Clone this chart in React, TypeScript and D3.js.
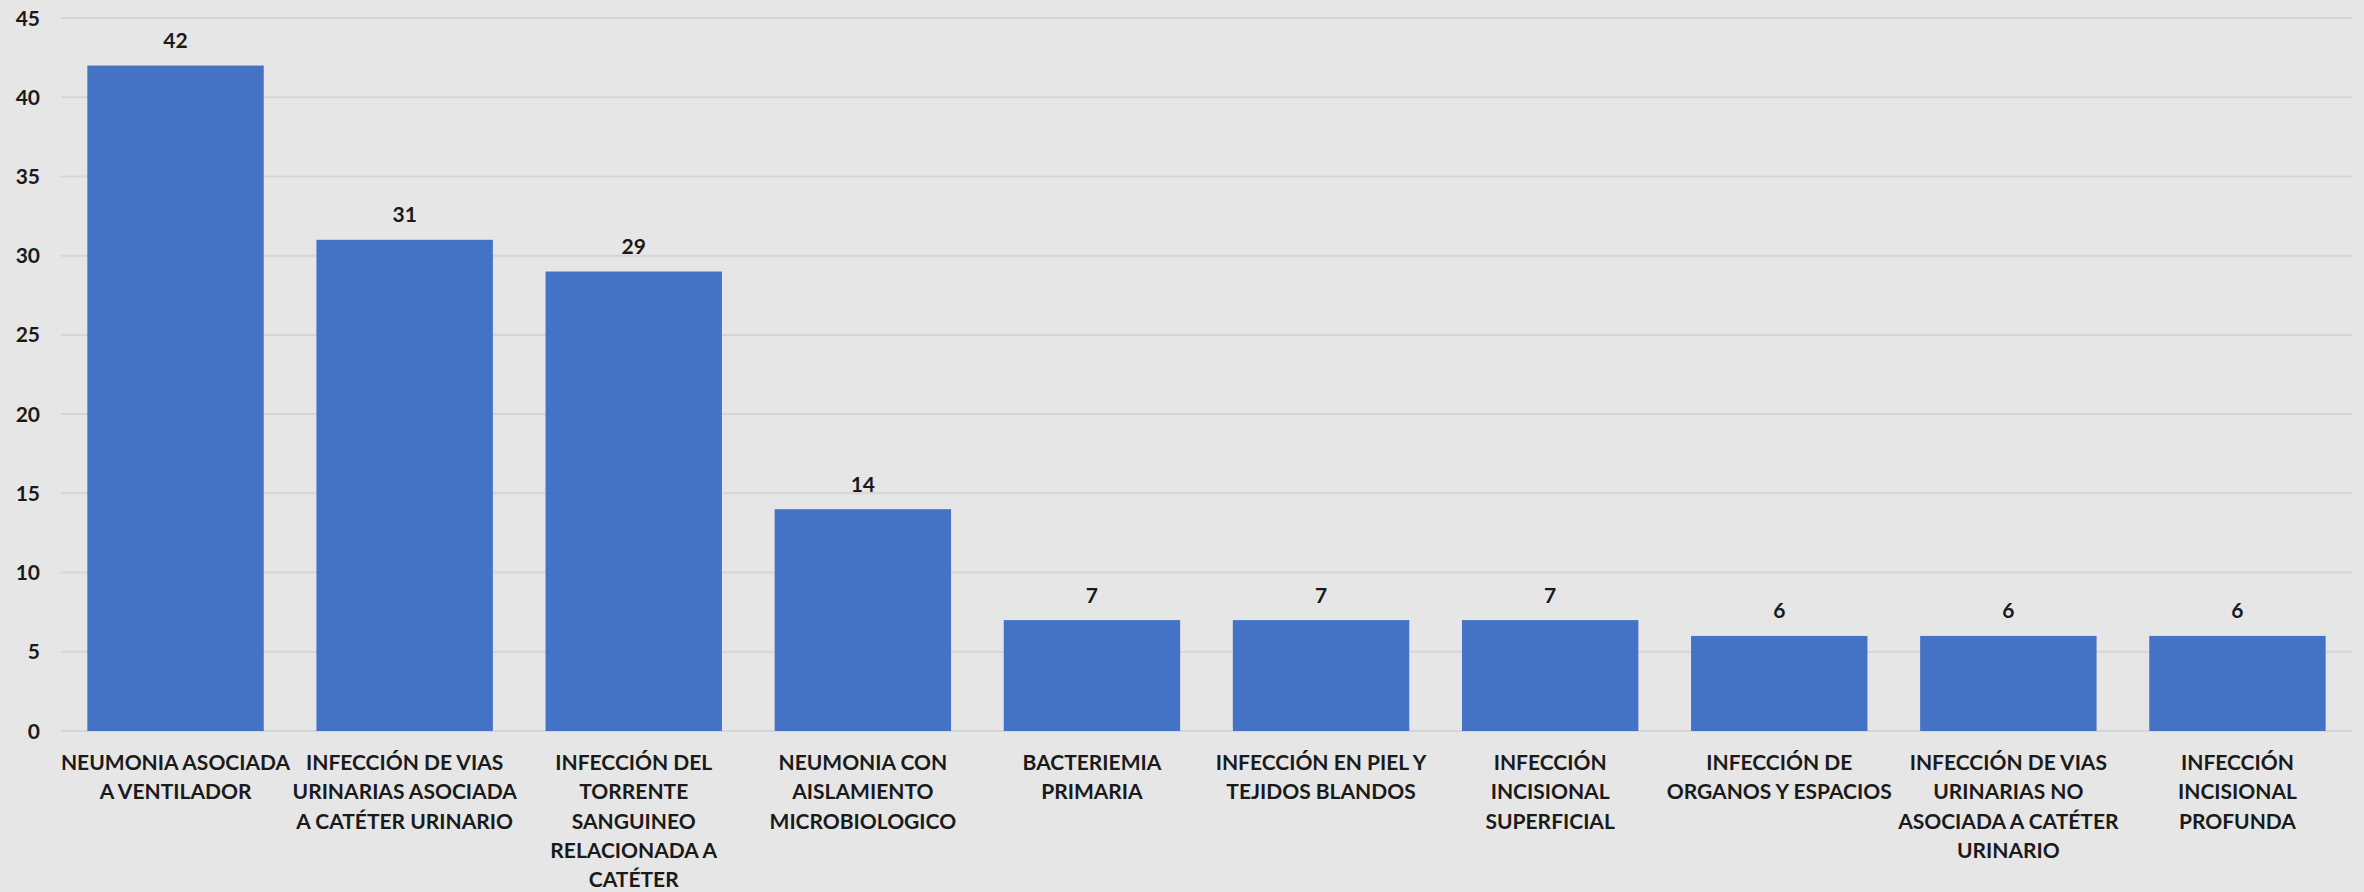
import React from "react";
import * as d3 from "d3";

const categories: string[][] = [
  ["NEUMONIA ASOCIADA", "A VENTILADOR"],
  ["INFECCIÓN DE VIAS", "URINARIAS ASOCIADA", "A CATÉTER URINARIO"],
  ["INFECCIÓN DEL", "TORRENTE", "SANGUINEO", "RELACIONADA A", "CATÉTER"],
  ["NEUMONIA CON", "AISLAMIENTO", "MICROBIOLOGICO"],
  ["BACTERIEMIA", "PRIMARIA"],
  ["INFECCIÓN EN PIEL Y", "TEJIDOS BLANDOS"],
  ["INFECCIÓN", "INCISIONAL", "SUPERFICIAL"],
  ["INFECCIÓN DE", "ORGANOS Y ESPACIOS"],
  ["INFECCIÓN DE VIAS", "URINARIAS NO", "ASOCIADA A CATÉTER", "URINARIO"],
  ["INFECCIÓN", "INCISIONAL", "PROFUNDA"],
];
const values: number[] = [42, 31, 29, 14, 7, 7, 7, 6, 6, 6];
const yTicks: number[] = [0, 5, 10, 15, 20, 25, 30, 35, 40, 45];

const W = 2364;
const H = 892;
const FONT = "Lato, 'Open Sans', sans-serif";

export default function App() {
  const left = 61;
  const right = 2352;
  const top = 18;
  const bottom = 731;
  const x = d3
    .scaleBand<number>()
    .domain(values.map((_, i) => i))
    .range([left, right])
    .paddingInner(0.23)
    .paddingOuter(0.115);
  const y = d3.scaleLinear().domain([0, 45]).range([bottom, top]);
  const textColor = "#1a1a1a";
  return (
    <svg
      width={W}
      height={H}
      style={{ position: "absolute", left: 0, top: 0, display: "block" }}
      fontFamily={FONT}
    >
      <rect x={0} y={0} width={W} height={H} fill="#e6e6e6" />
      {yTicks.map((t) => (
        <g key={t}>
          <line
            x1={left}
            x2={right}
            y1={y(t)}
            y2={y(t)}
            stroke="#d5d5d5"
            strokeWidth={2}
          />
          <text
            x={40}
            y={y(t) + 7.5}
            textAnchor="end"
            fontSize={21}
            fontWeight={700}
            fill={textColor}
          >
            {t}
          </text>
        </g>
      ))}
      {values.map((v, i) => {
        const bx = x(i)!;
        const bw = x.bandwidth();
        return (
          <g key={i}>
            <rect x={bx} y={y(v)} width={bw} height={y(0) - y(v)} fill="#4472c4" />
            <text
              x={bx + bw / 2}
              y={y(v) - 17.5}
              textAnchor="middle"
              fontSize={21}
              fontWeight={700}
              fill={textColor}
            >
              {v}
            </text>
            {categories[i].map((line, j) => (
              <text
                key={j}
                x={bx + bw / 2}
                y={bottom + 39 + j * 29.3}
                textAnchor="middle"
                fontSize={21}
                fontWeight={700}
                fill={textColor}
              >
                {line}
              </text>
            ))}
          </g>
        );
      })}
    </svg>
  );
}
